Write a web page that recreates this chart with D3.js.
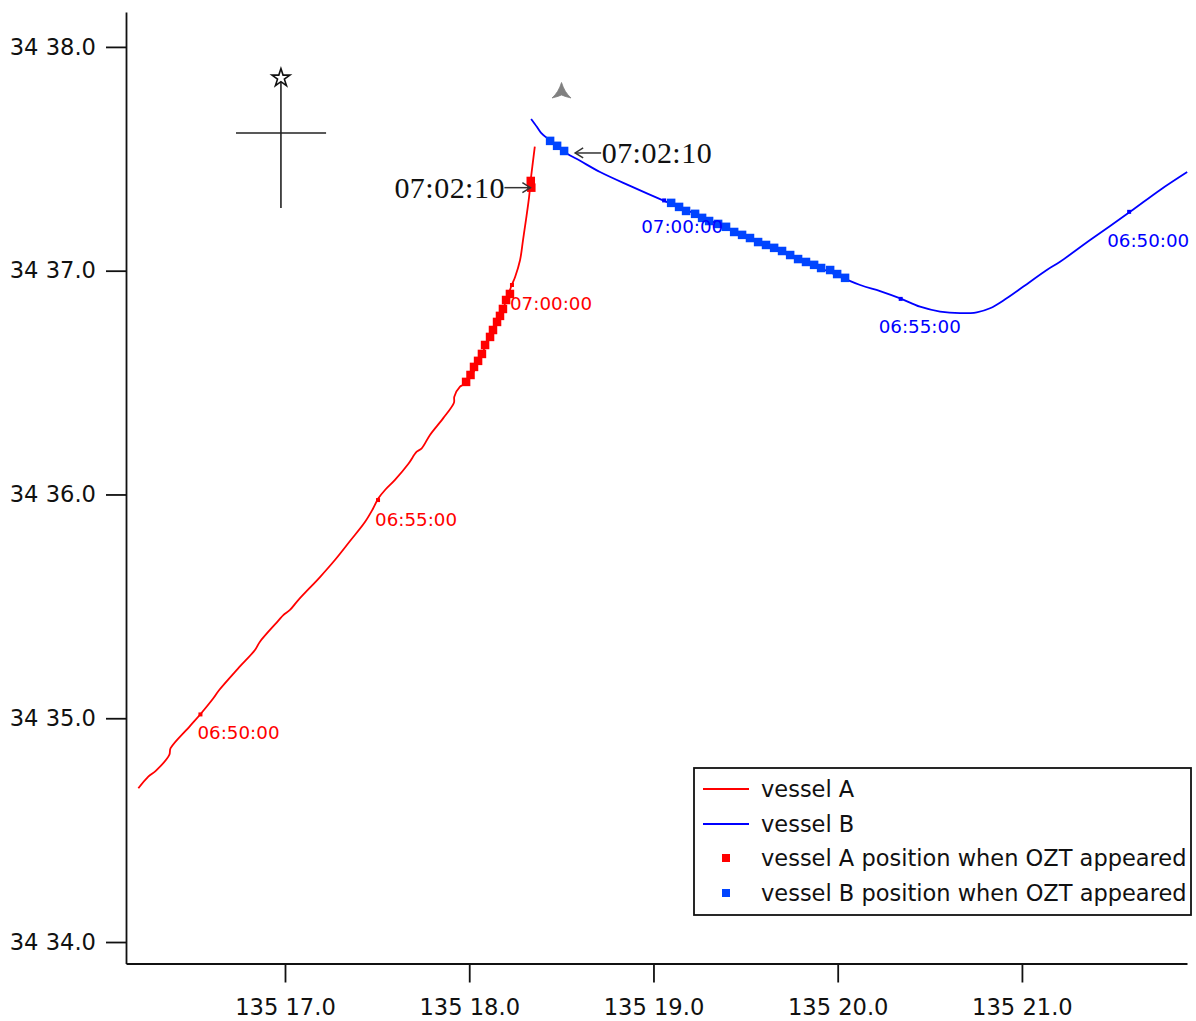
<!DOCTYPE html>
<html>
<head>
<meta charset="utf-8">
<script src="https://cdn.jsdelivr.net/npm/d3@7"></script>
<style>
body { margin: 0; background: #fff; }
text { font-family: "DejaVu Sans", sans-serif; }
</style>
</head>
<body>
<svg id="chart" width="1196" height="1021"></svg>
<script>
// track data, longitude and latitude in the axis units (135 deg / 34 deg offset kept as read)
var lonTicks = [17, 18, 19, 20, 21];
var latTicks = [34, 35, 36, 37, 38];

var vesselALon = [16.204,16.258,16.300,16.372,16.379,16.484,16.542,16.611,16.643,16.746,16.837,16.864,16.964,16.991,17.027,17.072,17.190,17.271,17.353,17.434,17.476,17.507,17.543,17.597,17.669,17.715,17.742,17.787,17.859,17.917,17.919,17.950,17.968,18.026,18.069,18.113,18.156,18.194,18.231,18.249,18.276,18.292,18.308,18.325,18.334,18.345,18.356];
var vesselALat = [34.687,34.739,34.766,34.836,34.866,34.965,35.019,35.089,35.126,35.223,35.305,35.342,35.436,35.461,35.484,35.528,35.631,35.707,35.792,35.877,35.934,35.983,36.020,36.065,36.136,36.191,36.206,36.266,36.341,36.410,36.437,36.482,36.491,36.552,36.628,36.708,36.780,36.851,36.936,36.972,37.048,37.137,37.227,37.330,37.406,37.482,37.554];

var vesselBLon = [18.336,18.368,18.390,18.428,18.471,18.526,18.602,18.710,18.873,19.058,19.253,19.470,19.687,19.904,20.122,20.230,20.343,20.447,20.556,20.664,20.755,20.827,20.909,21.008,21.135,21.207,21.370,21.587,21.750,21.897];
var vesselBLat = [37.678,37.642,37.616,37.589,37.562,37.526,37.491,37.441,37.379,37.312,37.245,37.164,37.084,37.012,36.936,36.909,36.875,36.839,36.817,36.810,36.814,36.832,36.872,36.929,37.003,37.040,37.137,37.263,37.361,37.441];

var oztALon = [17.983,18.007,18.026,18.048,18.069,18.086,18.113,18.129,18.151,18.167,18.183,18.200,18.221,18.334,18.337];
var oztALat = [36.503,36.534,36.570,36.597,36.628,36.668,36.704,36.735,36.771,36.798,36.829,36.869,36.896,37.401,37.371];

var oztBLon = [18.439,18.477,18.515,19.096,19.139,19.177,19.226,19.264,19.302,19.351,19.394,19.438,19.481,19.524,19.568,19.611,19.655,19.698,19.742,19.785,19.828,19.872,19.910,19.959,19.997,20.040];
var oztBLat = [37.580,37.558,37.535,37.303,37.285,37.267,37.254,37.236,37.222,37.209,37.196,37.173,37.160,37.146,37.128,37.115,37.102,37.088,37.070,37.052,37.039,37.026,37.012,37.003,36.985,36.968];

var timeALon = [16.541,17.505,18.232];
var timeALat = [35.017,35.975,36.936];
var timeBLon = [19.058,20.342,21.582];
var timeBLat = [37.314,36.874,37.263];
var timeLabels = ["06:50:00","06:55:00","07:00:00"];
var timeLabelsB = ["07:00:00","06:55:00","06:50:00"];

var legendLabels = ["vessel A","vessel B","vessel A position when OZT appeared","vessel B position when OZT appeared"];
var RED = "#ff0000", BLUE = "#0000ff", BLUE_SQ = "#0044ff";

var svg = d3.select("#chart");

var x = d3.scaleLinear().domain([16.137, 21.896]).range([126, 1187]);
var y = d3.scaleLinear().domain([33.904, 38.156]).range([963.5, 12]);

function makeTrack(lons, lats, colour) {
	var line = d3.line()
		.curve(d3.curveCatmullRom.alpha(0.5))
		.x(function(d) { return x(d[0]); })
		.y(function(d) { return y(d[1]); });
	svg.append("path")
		.attr("d", line(d3.zip(lons, lats)))
		.attr("fill", "none")
		.attr("stroke", colour)
		.attr("stroke-width", 1.8);
}

function makeSquares(lons, lats, colour, size) {
	svg.append("g").selectAll("rect")
		.data(d3.zip(lons, lats))
		.join("rect")
		.attr("x", function(d) { return x(d[0]) - size / 2; })
		.attr("y", function(d) { return y(d[1]) - size / 2; })
		.attr("width", size)
		.attr("height", size)
		.attr("fill", colour);
}

function makeTimeLabels(lons, lats, labels, colour, dx, dy) {
	svg.append("g").selectAll("text")
		.data(labels)
		.join("text")
		.text(function(d) { return d; })
		.attr("x", function(d, i) { return x(lons[i]) + dx[i]; })
		.attr("y", function(d, i) { return y(lats[i]) + dy[i]; })
		.attr("fill", colour)
		.attr("font-size", 18.3);
}

makeTrack(vesselALon, vesselALat, RED);
makeTrack(vesselBLon, vesselBLat, BLUE);
makeSquares(timeALon, timeALat, RED, 4);
makeSquares(timeBLon, timeBLat, BLUE, 4);
makeSquares(oztALon, oztALat, RED, 8.5);
makeSquares(oztBLon, oztBLat, BLUE_SQ, 8.5);

makeTimeLabels(timeALon, timeALat, timeLabels, RED, [-3, -3, -2], [25, 26, 25]);
makeTimeLabels(timeBLon, timeBLat, timeLabelsB, BLUE, [-23, -22, -22], [33, 34, 35]);

// axes
var xAxis = d3.axisBottom(x)
	.tickValues(lonTicks)
	.tickSize(19)
	.tickSizeOuter(0)
	.tickPadding(16)
	.tickFormat(function(d) { return "135 " + d3.format(".1f")(d); });
var yAxis = d3.axisLeft(y)
	.tickValues(latTicks)
	.tickSize(20)
	.tickSizeOuter(0)
	.tickPadding(10)
	.tickFormat(function(d) { return "34 " + d3.format(".1f")(d); });

var gx = svg.append("g").attr("transform", "translate(0,963.5)").call(xAxis);
var gy = svg.append("g").attr("transform", "translate(126,0)").call(yAxis);
[gx, gy].forEach(function(g) {
	g.selectAll("path, line").attr("stroke", "#111").attr("stroke-width", 1.8);
	g.selectAll("text").attr("font-size", 22.6).attr("font-family", "'DejaVu Sans', sans-serif").attr("fill", "#111");
});

// north cross with star
var northLon = 16.978, crossLat = 37.615;
svg.append("line")
	.attr("x1", x(northLon)).attr("x2", x(northLon))
	.attr("y1", y(37.861)).attr("y2", y(37.280))
	.attr("stroke", "#222").attr("stroke-width", 1.6);
svg.append("line")
	.attr("x1", x(16.734)).attr("x2", x(17.223))
	.attr("y1", y(crossLat)).attr("y2", y(crossLat))
	.attr("stroke", "#222").attr("stroke-width", 1.6);
svg.append("path")
	.attr("d", d3.symbol().type(d3.symbolStar).size(100)())
	.attr("transform", "translate(" + x(northLon) + "," + y(37.861) + ")")
	.attr("fill", "#fff")
	.attr("stroke", "#111")
	.attr("stroke-width", 1.6);

// grey heading marker
svg.append("path")
	.attr("d", "M0,-8.5 C2,-2 5,3 9.5,7 C6,6 3,5.5 0,4 C-3,5.5 -6,6 -9.5,7 C-5,3 -2,-2 0,-8.5 Z")
	.attr("transform", "translate(" + x(18.501) + "," + y(37.803) + ")")
	.attr("fill", "#808080")
	.attr("stroke", "#808080")
	.attr("stroke-width", 0.8);

// 07:02:10 callouts
function makeCallout(lon, lat, dir, textX) {
	var px = x(lon), py = y(lat);
	var g = svg.append("g").attr("stroke", "#333").attr("stroke-width", 1.5).attr("fill", "none");
	g.append("line").attr("x1", px).attr("x2", px + dir * 26).attr("y1", py).attr("y2", py);
	g.append("polyline")
		.attr("points", [[px + dir * 8, py - 5], [px, py], [px + dir * 8, py + 5]].join(" "));
	svg.append("text")
		.text("07:02:10")
		.attr("x", textX(px))
		.attr("y", py + 10)
		.attr("font-size", 30)
		.style("font-family", "'Liberation Serif', serif")
		.attr("textLength", 110)
		.attr("fill", "#111");
}
makeCallout(18.332, 37.371, -1, function(px) { return px - 136; });
makeCallout(18.575, 37.526, 1, function(px) { return px + 26.5; });

// legend
var legend = svg.append("g").attr("transform", "translate(694,768)");
legend.append("rect")
	.attr("width", 497).attr("height", 147)
	.attr("fill", "#fff").attr("stroke", "#111").attr("stroke-width", 1.8);
var rows = [21, 56, 90, 125];
legendLabels.forEach(function(label, i) {
	if (i < 2) {
		legend.append("line")
			.attr("x1", 9).attr("x2", 55)
			.attr("y1", rows[i]).attr("y2", rows[i])
			.attr("stroke", i == 0 ? RED : BLUE)
			.attr("stroke-width", 1.8);
	} else {
		legend.append("rect")
			.attr("x", 28).attr("y", rows[i] - 4)
			.attr("width", 8).attr("height", 8)
			.attr("fill", i == 2 ? RED : BLUE_SQ);
	}
	legend.append("text")
		.text(label)
		.attr("x", 67)
		.attr("y", rows[i] + 8)
		.attr("font-size", 22.5)
		.attr("fill", "#111");
});
</script>
</body>
</html>
